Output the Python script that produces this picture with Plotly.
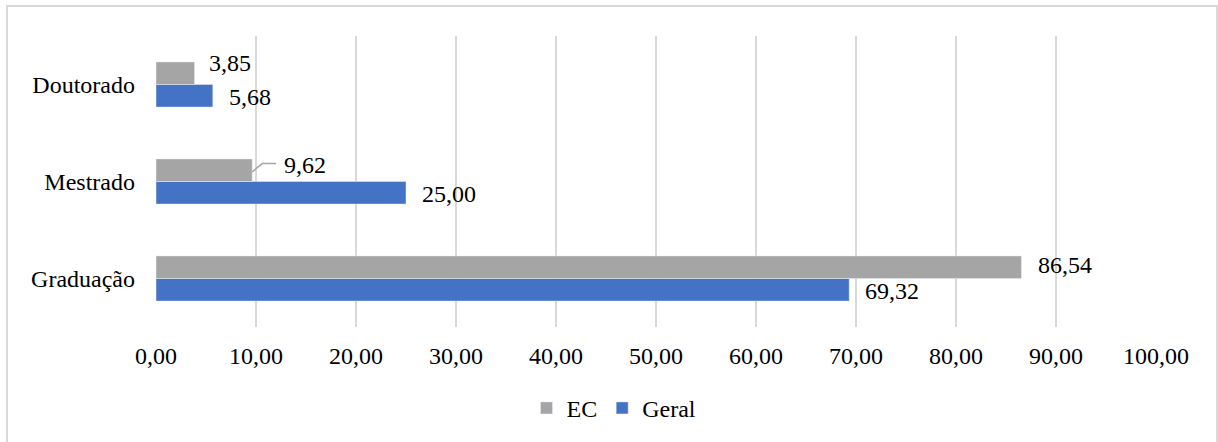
import plotly.graph_objects as go

categories = ["Graduação", "Mestrado", "Doutorado"]
ec_values = [86.54, 9.62, 3.85]
geral_values = [69.32, 25.00, 5.68]
x_ticks = [0, 10, 20, 30, 40, 50, 60, 70, 80, 90, 100]

GRAY = "#A5A5A5"
BLUE = "#4472C4"
FONT = "Liberation Serif, Times New Roman, serif"
FS = 24

def fmt(v):
    return f"{v:.2f}".replace(".", ",")

fig = go.Figure()
fig.add_trace(go.Bar(y=categories, x=geral_values, orientation="h", name="Geral",
                     marker=dict(color=BLUE), legendrank=2))
fig.add_trace(go.Bar(y=categories, x=ec_values, orientation="h", name="EC",
                     marker=dict(color=GRAY), legendrank=1))

annotations = []
for i, (c, v) in enumerate(zip(categories, geral_values)):
    annotations.append(dict(x=v, y=c, xref="x", yref="y", text=fmt(v), showarrow=False,
                            xanchor="left", yanchor="middle", xshift=14, yshift=-12))
for i, (c, v) in enumerate(zip(categories, ec_values)):
    if c == "Mestrado":
        annotations.append(dict(x=v, y=c, xref="x", yref="y", text=fmt(v), showarrow=False,
                                xanchor="left", yanchor="middle", xshift=30, yshift=17))
        fig.add_shape(type="path", xref="x", yref="y",
                      path=f"M {v},{i + 0.10} L {v + 1.0},{i + 0.185} L {v + 2.4},{i + 0.185}",
                      line=dict(color="#A6A6A6", width=1.5))
    elif c == "Doutorado":
        annotations.append(dict(x=v, y=c, xref="x", yref="y", text=fmt(v), showarrow=False,
                                xanchor="left", yanchor="middle", xshift=12, yshift=22))
    else:
        annotations.append(dict(x=v, y=c, xref="x", yref="y", text=fmt(v), showarrow=False,
                                xanchor="left", yanchor="middle", xshift=15, yshift=14))

fig.update_layout(
    width=1218, height=442,
    margin=dict(l=156, r=62, t=36, b=114),
    paper_bgcolor="white", plot_bgcolor="white",
    barmode="group", bargap=0.535, bargroupgap=0,
    separators=",.",
    font=dict(family=FONT, size=FS, color="#000000"),
    annotations=annotations,
    showlegend=True,
    legend=dict(orientation="h", x=0.458, xanchor="center", y=-0.275, yanchor="middle",
                font=dict(family=FONT, size=FS, color="#000000"),
                itemwidth=30, traceorder="normal"),
    xaxis=dict(range=[0, 100], tickvals=x_ticks, tickformat=".2f",
               showgrid=True, gridcolor="#D9D9D9", gridwidth=2,
               zeroline=False, showline=False, ticks="", ticklabelstandoff=12,
               tickfont=dict(family=FONT, size=FS, color="#000000"), fixedrange=True),
    yaxis=dict(categoryorder="array", categoryarray=categories,
               showgrid=False, zeroline=False, showline=False, ticks="",
               ticklabelstandoff=20,
               tickfont=dict(family=FONT, size=FS, color="#000000"), fixedrange=True),
)

fig.add_shape(type="rect", xref="paper", yref="paper",
              x0=-0.149, x1=1.061, y0=-0.6, y1=1.103,
              line=dict(color="#D9D9D9", width=2), layer="below")

fig.write_html("out.html")
